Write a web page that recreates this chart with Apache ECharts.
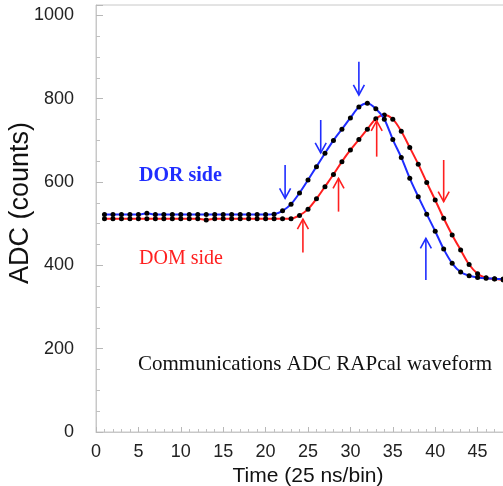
<!DOCTYPE html>
<html>
<head>
<meta charset="utf-8">
<script src="https://cdn.jsdelivr.net/npm/echarts@6/dist/echarts.min.js"></script>
<style>
html,body{margin:0;padding:0;background:#fff;}
#c{width:503px;height:486px;}
</style>
</head>
<body>
<div id="c"></div>
<script>
// Time bins (25 ns/bin)
const bins = [1,2,3,4,5,6,7,8,9,10,11,12,13,14,15,16,17,18,19,20,21,22,23,24,25,26,27,28,29,30,31,32,33,34,35,36,37,38,39,40,41,42,43,44,45,46,47,48];
// DOR side ADC counts
const dorValues = [522,522,522,522,522,525,522,522,522,522,522,522,522,522,522,522,522,522,522,522,523,531,547,574,605,637,669,700,727,754,780,789,776,751,702,659,609,565,523,482,439,405,384,375,371,369,368,367];
// DOM side ADC counts
const domValues = [512,512,512,512,512,512,512,512,512,512,512,512,509,512,512,512,512,512,512,512,512,512,512,520,535,560,589,618,649,677,702,727,752,761,751,722,683,643,599,557,513,473,437,402,380,370,367,365];
// Arrows: [bin, tail value, head value]
const dorArrows = [[22.3,641,561],[26.5,749,670],[31.0,889,809],[38.9,365,465]];
const domArrows = [[24.4,431,511],[28.6,529,609],[33.1,661,747],[41.0,653,553]];
// Axis settings
const xTicks = {min:0, max:50, interval:5};
const yTicks = {min:0, max:1025, interval:200};
const xTitle = 'Time (25 ns/bin)';
const yTitle = 'ADC (counts)';
const dorLabel = 'DOR side';
const domLabel = 'DOM side';
const plotTitle = 'Communications ADC RAPcal waveform';

const BLUE = '#1f2dff';
const RED = '#ff1f1f';

function pairs(xs, ys){ return xs.map((x,i)=>[x, ys[i]]); }

function arrowRender(color){
  return function(params, api){
    const p0 = api.coord([api.value(0), api.value(1)]);
    const p1 = api.coord([api.value(0), api.value(2)]);
    const dir = p1[1] > p0[1] ? 1 : -1;
    const hl = 10, hw = 5.5;
    return {
      type:'group',
      children:[
        {type:'line', shape:{x1:p0[0], y1:p0[1], x2:p1[0], y2:p1[1]}, style:{stroke:color, lineWidth:1.6}},
        {type:'polyline', shape:{points:[[p1[0]-hw, p1[1]-dir*hl],[p1[0], p1[1]],[p1[0]+hw, p1[1]-dir*hl]]}, style:{stroke:color, lineWidth:1.6, fill:null}}
      ]
    };
  };
}

const chart = echarts.init(document.getElementById('c'), null, {renderer:'canvas'});
const labelFont = {fontFamily:'Liberation Sans, Arial, sans-serif', fontSize:18, color:'#222'};
chart.setOption({
  animation:false,
  backgroundColor:'#fff',
  grid:{left:96, top:5, bottom:54, right:-17, outerBoundsMode:'none', containLabel:false,
        show:true, borderColor:'#c8c8c8', borderWidth:1},
  xAxis:{
    type:'value', min:xTicks.min, max:xTicks.max, interval:xTicks.interval,
    name:xTitle, nameLocation:'middle', nameGap:34,
    nameTextStyle:{fontFamily:'Liberation Sans, Arial, sans-serif', fontSize:21, color:'#111'},
    axisLine:{show:true, lineStyle:{color:'#c8c8c8', width:1}},
    axisTick:{show:true, inside:true, length:5, lineStyle:{color:'#b8b8b8'}},
    minorTick:{show:true, splitNumber:5, length:3, lineStyle:{color:'#c0c0c0'}},
    axisLabel:Object.assign({margin:11}, labelFont),
    splitLine:{show:false}
  },
  yAxis:{
    type:'value', min:yTicks.min, max:yTicks.max, interval:yTicks.interval,
    axisLine:{show:true, lineStyle:{color:'#c8c8c8', width:1}},
    axisTick:{show:true, inside:true, length:7, lineStyle:{color:'#b8b8b8'}},
    minorTick:{show:true, splitNumber:4, length:4, lineStyle:{color:'#c0c0c0'}},
    axisLabel:Object.assign({margin:22, showMaxLabel:false,
      formatter:function(v){ return v % 200 === 0 ? String(v) : ''; }}, labelFont),
    splitLine:{show:false}
  },
  graphic:[
    {type:'text', x:21, y:203, rotation:Math.PI/2, style:{text:yTitle, fontFamily:'Liberation Sans, Arial, sans-serif', fontSize:27, fill:'#111', align:'center', verticalAlign:'middle'}},
    {type:'text', x:139, y:176, style:{text:dorLabel, fontFamily:'Liberation Serif, Times New Roman, serif', fontWeight:'bold', fontSize:20, fill:BLUE, align:'left', verticalAlign:'middle'}},
    {type:'text', x:139, y:259, style:{text:domLabel, fontFamily:'Liberation Serif, Times New Roman, serif', fontSize:20, fill:RED, align:'left', verticalAlign:'middle'}},
    {type:'text', x:138, y:364, style:{text:plotTitle, fontFamily:'Liberation Serif, Times New Roman, serif', fontSize:21, fill:'#111', align:'left', verticalAlign:'middle'}}
  ],
  series:[
    {type:'line', data:pairs(bins, domValues), smooth:0.3, symbol:'circle', symbolSize:5, showAllSymbol:true,
     lineStyle:{color:RED, width:2}, itemStyle:{color:'#000'}, z:3},
    {type:'line', data:pairs(bins, dorValues), smooth:0.3, symbol:'circle', symbolSize:5, showAllSymbol:true,
     lineStyle:{color:BLUE, width:2}, itemStyle:{color:'#000'}, z:4},
    {type:'custom', data:dorArrows, renderItem:arrowRender(BLUE), z:5, silent:true},
    {type:'custom', data:domArrows, renderItem:arrowRender(RED), z:5, silent:true}
  ]
});
</script>
</body>
</html>
